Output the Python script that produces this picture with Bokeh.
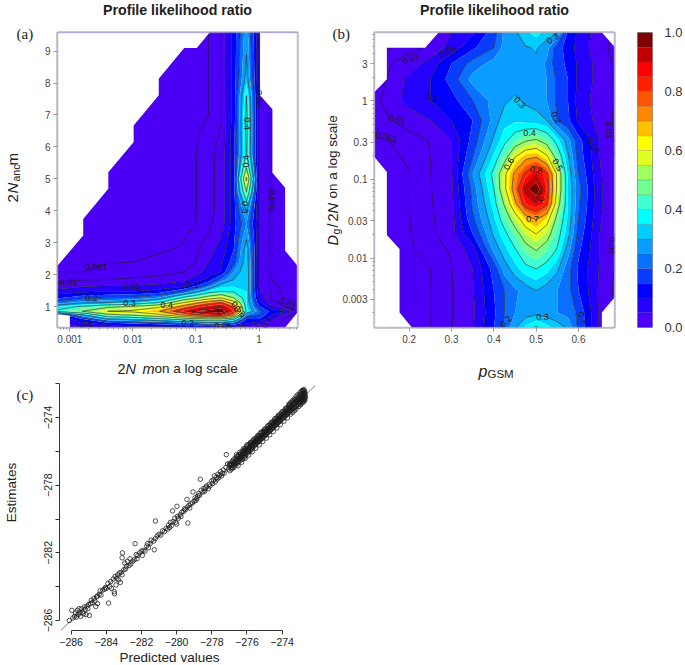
from bokeh.plotting import figure
from bokeh.layouts import column, row
from bokeh.models import FixedTicker, Label, BoxAnnotation
from bokeh.core.properties import value
from bokeh.embed import file_html
from bokeh.resources import INLINE
import numpy as np

FONT = "Liberation Sans"
SERIF = "Liberation Serif"

# ---------- shared colour key ----------
levels = [0, .05, .1, .15, .2, .25, .3, .35, .4, .45, .5, .55, .6, .65, .7, .75, .8, .85, .9, .95, 1.0]
band_colors = ["#4b00f5", "#2400ff", "#0000ff", "#083cff", "#0a70ff", "#0a9cff", "#00ccff", "#00ffff",
               "#40ffd0", "#70ff90", "#a0ff60", "#e0ff20", "#ffff00", "#ffc000", "#ff8800", "#ff5500",
               "#ff2000", "#ff0000", "#c00000", "#800000"]
line_levels = [.001, .01, .05, .1, .2, .3, .4, .5, .6, .7, .8, .9]

# ---------- panel (a) ----------
a_log2Nm = [-3.2, -2.8, -2.4, -2.0, -1.6, -1.2, -1.0, -0.8, -0.6, -0.4, -0.2, 0.0, 0.2, 0.4, 0.6]
a_Nanc = [.35, .48, .62, .75, .86, 1.0, 1.13, 1.28, 1.48, 1.66, 1.85, 2.1, 2.4, 2.8, 3.2, 3.6,
          4.0, 4.6, 5.0, 5.4, 5.8, 6.4, 7.0, 7.6, 8.2, 9.6]
a_z = [
 [.02, .05, .07, .08, .08, .09, .09, .09, .05, .03, .03, .02, .015, .001, .0005],
 [.03, .08, .12, .15, .17, .2, .22, .25, .25, .2, .1, .06, .03, .002, .001],
 [.05, .15, .3, .33, .38, .45, .48, .5, .5, .42, .15, .15, .06, .005, .001],
 [.1, .3, .48, .52, .58, .72, .8, .85, .87, .72, .25, .2, .1, .03, .002],
 [.42, .5, .6, .62, .69, .87, .95, .98, .995, .85, .38, .22, .13, .11, .012],
 [.35, .42, .48, .52, .58, .74, .82, .88, .93, .78, .36, .16, .06, .008, .001],
 [.22, .28, .3, .33, .4, .6, .68, .75, .8, .64, .35, .12, .02, .003, .0008],
 [.14, .18, .2, .21, .25, .42, .48, .55, .6, .5, .35, .08, .006, .0008, .0005],
 [.07, .09, .1, .1, .12, .2, .28, .36, .4, .39, .35, .06, .002, .0006, .0004],
 [.015, .04, .05, .05, .06, .08, .14, .22, .33, .34, .35, .05, .0015, .0005, .0003],
 [.005, .008, .01, .012, .015, .04, .07, .12, .22, .3, .35, .05, .001, .0005, .0003],
 [.001, .001, .002, .003, .004, .008, .03, .07, .1, .25, .35, .05, .0008, .0005, .0003],
 [.0004, .0006, .0008, .001, .0015, .003, .01, .05, .09, .18, .34, .05, .0008, .0005, .0003],
 [.0002, .0003, .0004, .0005, .0007, .0012, .004, .03, .07, .15, .33, .05, .0008, .0005, .0003],
 [.0002, .0002, .0003, .0003, .0005, .0008, .002, .012, .05, .14, .29, .05, .0008, .0005, .0003],
 [.0002, .0002, .0003, .0003, .0004, .0008, .001, .005, .025, .13, .25, .05, .0008, .0005, .0003],
 [.0002, .0002, .0003, .0003, .0004, .0006, .0009, .003, .018, .13, .3, .05, .0008, .0005, .0003],
 [.0002, .0002, .0003, .0003, .0004, .0006, .0009, .003, .018, .13, .5, .05, .0008, .0005, .0003],
 [.0002, .0002, .0003, .0003, .0004, .0006, .0009, .003, .018, .13, .62, .05, .0008, .0005, .0003],
 [.0002, .0002, .0003, .0003, .0004, .0006, .0009, .003, .018, .13, .48, .05, .0008, .0005, .0003],
 [.0002, .0002, .0003, .0003, .0004, .0006, .0009, .003, .018, .13, .41, .05, .0008, .0005, .0003],
 [.0002, .0002, .0003, .0003, .0004, .0006, .0008, .002, .012, .13, .42, .05, .0008, .0005, .0003],
 [.0002, .0002, .0003, .0003, .0004, .0005, .0006, .001, .008, .12, .42, .05, .0008, .0005, .0003],
 [.0002, .0002, .0003, .0003, .0004, .0005, .0006, .001, .008, .12, .40, .05, .0008, .0005, .0003],
 [.0002, .0002, .0003, .0003, .0004, .0005, .0006, .001, .008, .12, .32, .05, .0008, .0005, .0003],
 [.0002, .0002, .0003, .0003, .0004, .0005, .0006, .001, .008, .12, .28, .05, .0008, .0005, .0003],
]
# edge of the region that was evaluated
a_edge_x = [-3.196, -2.788, -2.788, -2.390, -2.390, -1.988, -1.988, -1.590, -1.590, -1.187, -0.986, -0.784,
            0.016, 0.016, 0.212, 0.212, 0.413, 0.413, 0.61, 0.61, 0.413, -3.0, -3.0, -3.196]
a_edge_y = [2.285, 3.226, 3.748, 4.689, 5.211, 6.152, 6.674, 7.615, 8.137, 9.098, 9.098, 9.579,
            9.579, 7.615, 7.176, 5.19, 4.72, 2.755, 2.285, 0.822, 0.352, 0.352, 0.718, 0.77]
a_lab_text = ["0.001", "0.01", "0.05", "0.1", "0.2", "0.3", "0.4", "0.5", "0.6", "0.1", "0.2", "0.05",
              "0.01", "0.1", "0.001", "0.05", "0.4", "0.4", "0.3"]
a_lab_x = [-2.586, -3.02, -2.02, -1.06, -2.655, -2.056, -1.463, -0.345, -0.307, -2.73, -1.13, -0.572,
           .45, .117, .212, 0, -0.19, -0.2, -0.228]
a_lab_y = [2.254, 1.763, 1.658, 1.69, 1.26, 1.115, 1.063, 1.0, .854, .457, .478, .394,
           1.08, .51, 4.30, 7.51, 6.73, 5.55, 4.11]
a_lab_rot = [0, 0, 0, 0, 0, 0, 0, -45, -45, 0, 0, 0, -25, 60, -90, -90, -90, 90, -90]

# ---------- panel (b) ----------
b_p = [.118, .147, .2, .25, .3, .35, .4, .425, .45, .475, .5, .525, .55, .575, .6, .65, .685]
b_logD = [-2.885, -2.694, -2.417, -2.14, -1.906, -1.694, -1.502, -1.311, -1.119, -.928, -.715, -.502,
          -.247, .0085, .277, .477, .677, .872]
b_z = [
 [0, 0, .0003, .0009, .009, .045, .15, .21, .29, .36, .41, .37, .33, .29, .19, .045, .005],
 [0, 0, .0003, .0007, .008, .04, .14, .2, .25, .27, .28, .27, .25, .23, .19, .04, .004],
 [0, 0, .0004, .0007, .008, .045, .15, .2, .24, .27, .30, .27, .25, .22, .15, .04, .005],
 [0, .0001, .0005, .0009, .009, .05, .17, .27, .33, .38, .40, .37, .31, .22, .14, .045, .009],
 [0, .0001, .0007, .002, .012, .07, .26, .33, .39, .46, .5, .45, .39, .27, .16, .05, .01],
 [0, .0001, .0008, .003, .03, .15, .31, .38, .46, .55, .6, .54, .43, .32, .18, .05, .01],
 [0, .0001, .0009, .005, .03, .19, .34, .44, .55, .66, .71, .64, .47, .34, .2, .055, .012],
 [0, .0001, .0009, .007, .035, .21, .37, .51, .68, .85, .9, .82, .54, .35, .21, .06, .012],
 [.0001, .0002, .0009, .008, .04, .22, .4, .58, .75, .93, .995, .85, .58, .35, .22, .06, .012],
 [.0001, .0002, .0009, .009, .045, .25, .42, .58, .72, .82, .9, .82, .58, .34, .2, .055, .012],
 [.0001, .0003, .0014, .01, .05, .2, .36, .46, .6, .68, .7, .62, .46, .31, .18, .05, .01],
 [.0005, .0009, .002, .011, .05, .17, .31, .38, .44, .49, .51, .46, .37, .27, .17, .048, .009],
 [.004, .007, .02, .05, .1, .15, .27, .33, .34, .33, .32, .3, .2, .16, .09, .03, .007],
 [.006, .015, .07, .1, .13, .2, .27, .29, .31, .29, .28, .25, .19, .15, .08, .025, .006],
 [.001, .01, .06, .1, .17, .27, .28, .27, .27, .27, .27, .25, .19, .15, .09, .03, .006],
 [0, .006, .025, .07, .15, .22, .27, .28, .28, .29, .29, .24, .17, .14, .09, .03, .005],
 [0, .0005, .003, .014, .07, .14, .2, .27, .27, .295, .305, .27, .17, .13, .08, .02, .003],
 [0, .0003, .001, .008, .05, .09, .18, .26, .29, .34, .37, .33, .3, .14, .09, .02, .002],
]
b_edge_x = [.1181, .1472, .1472, .2378, .2693, .6551, .685, .685, .6551, .6551, .2063, .1772, .1772, .1472, .1472, .1181]
b_edge_y = [.115, .277, .677, .677, .872, .872, .689, -2.502, -2.694, -2.885, -2.885, -2.694, -1.885, -1.706, -.906, -.715]
b_lab_text = ["0.01", "0.05", "0.3", "0.1", "0.3", "0.2", "0.01", "0.001", "0.4", "0.01", "0.05", "0.6", "0.5",
              "0.8", "0.9", "0.7", "0.01", "0.1", "0.2", "0.3"]
b_lab_x = [.2047, .2906, .539, .256, .461, .547, .171, .147, .484, .673, .635, .436, .55, .5, .509, .491, .679, .612, .428, .515]
b_lab_y = [.540, .626, .796, .051, -.021, -.213, -.234, -.46, -.404, -.366, -.574, -.8, -.813, -.877, -1.204, -1.502,
           -1.843, -2.757, -2.809, -2.749]
b_lab_rot = [25, 30, 35, -20, -45, -60, -15, -15, 0, -90, -60, 60, -60, -10, -75, 0, -90, -50, 45, 0]

# ---------- panel (c) ----------
c_sparse = [(-286.1,-286.0),(-285.96,-285.4),(-285.9,-285.85),(-285.8,-285.75),(-285.75,-285.55),(-285.7,-285.8),(-285.65,-285.4),
 (-285.6,-285.65),(-285.55,-285.3),(-285.5,-285.55),(-285.45,-285.75),(-285.4,-285.3),(-285.35,-285.5),(-285.3,-285.6),(-285.25,-285.2),
 (-285.2,-285.35),(-285.15,-285.65),(-285.1,-285.15),(-285.05,-285.3),(-284.96,-285.7),(-285.0,-285.05),(-284.9,-285.0),(-284.85,-284.8),
 (-284.8,-284.95),(-284.7,-284.7),(-284.65,-284.85),(-284.6,-285.17),(-284.55,-284.6),(-284.5,-284.55),(-284.5,-285.0),(-284.4,-284.45),
 (-284.35,-284.25),(-284.3,-284.5),(-284.2,-284.2),(-284.1,-284.15),(-284.05,-284.05),(-284.0,-284.1),(-283.9,-283.8),(-283.87,-284.97),
 (-283.8,-284.0),(-283.75,-283.7),(-283.7,-284.1),(-283.6,-283.55),(-283.55,-284.3),(-283.53,-284.42),(-283.5,-283.4),(-283.45,-283.9),
 (-283.4,-283.5),(-283.35,-283.3),(-283.3,-283.6),(-283.25,-283.2),(-283.2,-283.75),(-283.15,-283.15),(-283.1,-283.3),(-283.1,-282.29),
 (-283.08,-282.0),(-283.0,-283.0),(-282.95,-282.6),(-282.9,-282.95),(-282.85,-282.8),(-282.8,-282.5),(-282.7,-282.75),(-282.65,-282.35),
 (-282.6,-282.65),(-282.5,-282.5),(-282.4,-282.4),(-282.36,-281.46),(-282.3,-282.1),(-282.25,-282.35),(-282.2,-282.15),(-282.1,-282.0),
 (-282.0,-281.9),(-281.95,-282.15),(-281.9,-281.85),(-281.8,-281.9),(-281.7,-281.6),(-281.65,-281.45),(-281.6,-281.7),(-281.5,-281.45),
 (-281.45,-281.25),(-281.3,-281.3),(-281.27,-281.82),(-281.2,-281.15),(-281.2,-280.12),(-281.1,-281.0),(-281.0,-280.9),(-280.9,-280.95),
 (-280.8,-280.7),(-280.7,-280.75),(-280.6,-280.55),(-280.5,-280.6),(-280.45,-280.35),(-280.4,-280.5),(-280.35,-280.2),(-280.3,-280.4),
 (-280.23,-279.52),(-280.2,-280.15),(-280.1,-279.95),(-280.05,-280.2),(-280.0,-280.3),(-279.98,-279.25),(-279.95,-279.85),(-279.9,-279.95),
 (-279.8,-279.75),(-279.75,-279.85),(-279.7,-279.6),(-279.6,-279.55),(-279.55,-279.4),(-279.5,-279.45),(-279.41,-278.84),(-279.4,-279.3),
 (-279.36,-280.24),(-279.3,-279.2),(-279.25,-279.35),(-279.2,-279.1),(-279.1,-279.05),(-279.07,-278.4),(-279.0,-278.95),(-278.95,-278.75),
 (-278.9,-278.9),(-278.85,-278.8),(-278.8,-278.65),(-278.75,-278.5),(-278.7,-278.6),(-278.65,-277.65),(-278.6,-278.3),(-278.5,-278.4),
 (-278.45,-278.2),(-278.4,-278.35),(-278.35,-278.15),(-278.3,-278.05),(-278.2,-278.2),(-278.15,-277.95),(-278.1,-278.05),(-278.0,-277.75),
 (-277.95,-277.9),(-277.9,-277.7),(-277.85,-277.45),(-277.8,-277.8),(-277.75,-277.55),(-277.7,-277.65),(-277.65,-277.35),(-277.6,-277.55),
 (-277.55,-277.4),(-277.5,-277.2),(-277.45,-277.45),(-277.4,-277.3),(-277.35,-277.1),(-277.3,-277.3),(-277.2,-276.95),(-277.17,-276.19),(-277.1,-276.75)]
c_dense = [(-277.05,-277.05),(-277.0,-276.75),(-276.97,-277.15),(-276.93,-276.7),(-276.9,-276.95),(-276.87,-277.05),(-276.84,-276.6),
 (-276.8,-276.85),(-276.77,-276.5),(-276.74,-276.95),(-276.7,-276.7),(-276.67,-276.4),(-276.64,-276.8),(-276.6,-276.55),(-276.57,-276.3),
 (-276.54,-276.7),(-276.5,-276.45),(-276.47,-276.2),(-276.44,-276.6),(-276.4,-276.35),(-276.37,-276.15),(-276.34,-276.5),(-276.3,-276.25),
 (-276.27,-276.0),(-276.24,-276.45),(-276.2,-276.15),(-276.18,-275.95),(-276.15,-276.35),(-276.12,-276.05),(-276.1,-275.8),(-276.07,-276.25),
 (-276.04,-275.95),(-276.0,-275.7),(-275.97,-276.1),(-275.94,-275.85),(-275.9,-275.6),(-275.87,-276.0),(-275.85,-275.75),(-275.82,-275.55),
 (-275.8,-275.95),(-275.77,-275.65),(-275.74,-275.45),(-275.7,-275.85),(-275.67,-275.55),(-275.64,-275.35),(-275.6,-275.7),(-275.57,-275.45),
 (-275.54,-275.25),(-275.5,-275.6),(-275.47,-275.35),(-275.44,-275.2),(-275.4,-275.5),(-275.37,-275.25),(-275.34,-275.05),(-275.3,-275.4),
 (-275.27,-275.15),(-275.24,-274.95),(-275.2,-275.3),(-275.17,-275.05),(-275.14,-274.85),(-275.1,-275.2),(-275.07,-274.95),(-275.04,-274.8),
 (-275.0,-275.1),(-274.97,-274.85),(-274.94,-274.7),(-274.9,-275.0),(-274.87,-274.75),(-274.84,-274.55),(-274.8,-274.9),(-274.77,-274.65),
 (-274.74,-274.45),(-274.7,-274.8),(-274.67,-274.55),(-274.64,-274.35),(-274.6,-274.7),(-274.57,-274.45),(-274.54,-274.25),(-274.5,-274.6),
 (-274.47,-274.35),(-274.44,-274.15),(-274.4,-274.5),(-274.37,-274.25),(-274.34,-274.05),(-274.3,-274.4),(-274.27,-274.15),(-274.24,-273.95),
 (-274.2,-274.3),(-274.17,-274.05),(-274.14,-273.85),(-274.1,-274.2),(-274.07,-273.95),(-274.04,-273.75),(-274.0,-274.1),(-273.97,-273.85),
 (-273.94,-273.65),(-273.9,-274.0),(-273.87,-273.75),(-273.84,-273.55),(-273.8,-273.9),(-273.77,-273.65),(-273.74,-273.45),(-273.7,-273.8),
 (-273.67,-273.55),(-273.64,-273.35),(-273.6,-273.7),(-273.57,-273.45),(-273.54,-273.25),(-273.5,-273.6),(-273.47,-273.35),(-273.44,-273.15),
 (-273.4,-273.5),(-273.37,-273.25),(-273.34,-273.05),(-273.3,-273.45),(-273.27,-273.15),(-273.24,-272.95),(-273.2,-273.35),(-273.17,-273.05),
 (-273.14,-272.85),(-273.1,-273.25),(-273.07,-272.95),(-273.04,-272.75),(-273.0,-273.2),(-272.98,-272.9),(-272.96,-272.65),(-272.93,-273.1),
 (-272.9,-272.85),(-272.88,-272.6),(-272.85,-273.05),(-272.83,-272.8),(-272.81,-272.5),(-272.78,-273.0),(-272.76,-272.75),(-272.74,-272.45),
 (-272.72,-272.9),(-272.7,-272.65),(-272.75,-272.35),(-272.68,-272.8),(-272.7,-272.5),(-272.8,-272.4),(-272.85,-272.4)]
c_dense_inner = [(-276.98,-276.8),(-276.92,-276.82),(-276.86,-276.78),(-276.82,-276.98),(-276.76,-276.7),(-276.72,-276.6),(-276.66,-276.72),
 (-276.62,-276.48),(-276.58,-276.66),(-276.52,-276.32),(-276.48,-276.58),(-276.42,-276.4),(-276.38,-276.28),(-276.32,-276.36),(-276.28,-276.12),
 (-276.22,-276.3),(-276.16,-276.1),(-276.14,-275.92),(-276.08,-276.14),(-276.02,-275.86),(-275.98,-275.98),(-275.92,-276.02),(-275.88,-275.78),
 (-275.84,-275.88),(-275.78,-275.72),(-275.72,-275.58),(-275.68,-275.74),(-275.62,-275.52),(-275.58,-275.62),(-275.52,-275.38),(-275.46,-275.5),
 (-275.42,-275.32),(-275.36,-275.42),(-275.32,-275.12),(-275.26,-275.28),(-275.22,-275.1),(-275.16,-275.24),(-275.12,-275.0),(-275.06,-275.12),
 (-275.02,-274.86),(-274.96,-275.02),(-274.92,-274.8),(-274.86,-274.9),(-274.82,-274.68),(-274.76,-274.82),(-274.72,-274.58),(-274.66,-274.72),
 (-274.62,-274.48),(-274.56,-274.6),(-274.52,-274.36),(-274.46,-274.5),(-274.42,-274.28),(-274.36,-274.42),(-274.32,-274.16),(-274.26,-274.3),
 (-274.22,-274.08),(-274.16,-274.22),(-274.12,-273.96),(-274.06,-274.1),(-274.02,-273.88),(-273.96,-274.02),(-273.92,-273.76),(-273.86,-273.92),
 (-273.82,-273.68),(-273.76,-273.82),(-273.72,-273.56),(-273.66,-273.72),(-273.62,-273.46),(-273.56,-273.62),(-273.52,-273.36),(-273.46,-273.52),
 (-273.42,-273.26),(-273.36,-273.42),(-273.32,-273.16),(-273.26,-273.36),(-273.22,-273.06),(-273.16,-273.26),(-273.12,-272.96),(-273.06,-273.14),
 (-273.02,-272.86),(-272.97,-273.05),(-272.94,-272.78),(-272.89,-272.98),(-272.86,-272.7),(-272.82,-272.9),(-272.79,-272.62),(-272.75,-272.85),
 (-272.72,-272.58),(-272.7,-272.75),(-273.2,-272.75),(-273.1,-272.65),(-273.0,-272.55),(-272.9,-272.45),(-272.95,-273.25),(-272.85,-273.15),
 (-272.75,-273.05),(-273.05,-273.35),(-272.7,-272.95),(-273.3,-272.9),(-273.4,-273.0),(-273.5,-273.1),(-273.6,-273.2),(-273.5,-273.8),
 (-273.4,-273.7),(-273.3,-273.6),(-273.2,-273.5)]
c_dense_outer = [(-276.6,-276.2),(-276.5,-276.85),(-276.4,-276.05),(-276.3,-276.65),(-276.2,-275.85),(-276.1,-276.42),(-276.0,-275.62),
 (-275.9,-276.22),(-275.8,-275.48),(-275.7,-276.02),(-275.6,-275.28),(-275.5,-275.82),(-275.4,-275.08),(-275.3,-275.62),(-275.2,-274.88),
 (-275.1,-275.42),(-275.0,-274.68),(-274.9,-275.22),(-274.8,-274.48),(-274.7,-275.02),(-274.6,-274.28),(-274.5,-274.82),(-274.4,-274.06),
 (-274.3,-274.62),(-274.2,-273.86),(-274.1,-274.42),(-274.0,-273.66),(-273.9,-274.22),(-273.8,-273.46),(-273.7,-274.02),(-273.6,-273.26)]
c_identity = [-286.6, -272.1]
c_ticks = [-286, -284, -282, -280, -278, -276, -274]
c_y_ticks = [-286, -284, -282, -280, -278, -276, -274, -272]
c_y_labels = {-286: "\u2212286", -284: "", -282: "\u2212282", -280: "", -278: "\u2212278", -276: "", -274: "\u2212274", -272: ""}
c_x_labels = {-286: "\u2212286", -284: "\u2212284", -282: "\u2212282", -280: "\u2212280", -278: "\u2212278", -276: "\u2212276", -274: "\u2212274"}

# ---------- layout, page pixels ----------
AX_GRAY = "#9a9a9a"
TICK_TXT = "#444444"

# A transparent sheet over the whole page carries every text that mixes styles or sits outside a frame.
sheet = figure(width=685, height=665, x_range=(0, 685), y_range=(665, 0), x_axis_location=None, y_axis_location=None,
               output_backend="svg", toolbar_location=None, min_border=0, background_fill_color=None,
               border_fill_color=None, outline_line_color=None)
sheet.grid.visible = False


def page_label(text, px, py, size, style="normal", angle=0, font=FONT, color="#222222", align="left"):
    sheet.add_layout(Label(x=px, y=py, text=text, text_font=font, text_font_size=f"{size}px", text_font_style=style,
                           text_color=color, angle=angle, angle_units="deg", text_baseline="middle", text_align=align))


def contour_panel(xr, yr, fw, fh, left, right, top, bottom, xs, ys, z, ex, ey, lt, lx, ly, lr, plus):
    p = figure(width=left + fw + right, height=top + fh + bottom, x_range=xr, y_range=yr,
               output_backend="svg", toolbar_location=None, min_border_left=left, min_border_right=right,
               min_border_top=top, min_border_bottom=bottom)
    p.grid.visible = False
    p.outline_line_color = AX_GRAY
    p.outline_line_width = 2
    p.contour(xs, ys, np.array(z), levels=levels, fill_color=band_colors)
    p.contour(xs, ys, np.array(z), levels=line_levels, line_color="#1c1c1c", line_width=0.6)
    o = [xr[0] - 1, xr[1] + 1, xr[1] + 1, xr[0] - 1]
    q = [yr[0] - 1, yr[0] - 1, yr[1] + 1, yr[1] + 1]
    p.multi_polygons(xs=[[[o, ex]]], ys=[[[q, ey]]], fill_color="white", line_color=None)
    p.text(x=lx, y=ly, text=lt, angle=lr, angle_units="deg", text_font=value(FONT), text_font_size="9px",
           text_color="#1c1c1c", text_align="center", text_baseline="middle")
    p.scatter(x=[plus[0]], y=[plus[1]], marker="cross", size=7, line_color="#1c1c1c", line_width=0.7)
    p.add_layout(BoxAnnotation(left=xr[0], right=xr[1], bottom=yr[0], top=yr[1], fill_color=None,
                               line_color=AX_GRAY, line_width=2, level="overlay"))
    for ax in (p.xaxis[0], p.yaxis[0]):
        ax.axis_line_color = None
        ax.major_tick_line_color = AX_GRAY
        ax.minor_tick_line_color = AX_GRAY
        ax.major_tick_in = 0
        ax.major_tick_out = 4
        ax.minor_tick_in = 0
        ax.minor_tick_out = 2
        ax.major_label_text_font = FONT
        ax.major_label_text_font_size = "10px"
        ax.major_label_text_color = TICK_TXT
        ax.major_label_standoff = 3
    return p


# (a)
pa = contour_panel((-3.196, 0.61), (.352, 9.58), 240, 295, 57, 23, 32, 53, a_log2Nm, a_Nanc, a_z,
                   a_edge_x, a_edge_y, a_lab_text, a_lab_x, a_lab_y, a_lab_rot, (-0.65, 0.87))
pa.xaxis[0].ticker = FixedTicker(ticks=[-3, -2, -1, 0],
                                 minor_ticks=[float(d + np.log10(m)) for d in (-4, -3, -2, -1, 0) for m in range(2, 10)])
pa.xaxis[0].major_label_overrides = {-3: "0.001", -2: "0.01", -1: "0.1", 0: "1"}
pa.yaxis[0].ticker = FixedTicker(ticks=list(range(1, 10)))
page_label("Profile likelihood ratio", 177, 9, 14.2, "bold", align="center")
page_label("(a)", 16, 33, 15, font=SERIF)
page_label("2", 117, 368, 14.5)
page_label("N", 125, 368, 14.5, "italic")
page_label("m", 142, 368, 14.5, "italic")
page_label("on a log scale", 154, 368, 13.5)
page_label("2", 12, 202, 15, angle=90)
page_label("N", 12, 193, 15, "italic", angle=90)
page_label("anc", 15, 181, 10.5, angle=90)
page_label("m", 12, 165, 15, angle=90)

# (b)
pb = contour_panel((.118, .685), (-2.885, .872), 240, 295, 54, 6, 32, 53, b_p, b_logD, b_z,
                   b_edge_x, b_edge_y, b_lab_text, b_lab_x, b_lab_y, b_lab_rot, (.4929, -1.106))
pb.xaxis[0].ticker = FixedTicker(ticks=[.2, .3, .4, .5, .6])
pb.yaxis[0].ticker = FixedTicker(ticks=[float(np.log10(v)) for v in (.003, .01, .03, .1, .3, 1, 3)],
                                 minor_ticks=[float(d + np.log10(m)) for d in (-3, -2, -1, 0) for m in range(2, 10)])
pb.yaxis[0].major_label_overrides = {float(np.log10(v)): s for v, s in
                                     ((.003, "0.003"), (.01, "0.01"), (.03, "0.03"), (.1, "0.1"), (.3, "0.3"), (1, "1"), (3, "3"))}
page_label("Profile likelihood ratio", 494, 9, 14.2, "bold", align="center")
page_label("(b)", 332, 33, 15, font=SERIF)
page_label("p", 478, 371, 16, "italic")
page_label("GSM", 487, 373, 11.5)
page_label("D", 332, 245, 14.5, "italic", angle=90)
page_label("g", 335, 234, 10.5, angle=90)
page_label("/", 332, 227, 14, angle=90)
page_label("2", 332, 221, 14.5, angle=90)
page_label("N", 332, 213, 14.5, "italic", angle=90)
page_label("on a log scale", 332, 198, 13.5, angle=90)

# colour key
pk = figure(width=17 + 23 + 25, height=32 + 295 + 53, x_range=(0, 1), y_range=(0, 1), y_axis_location="right",
            output_backend="svg", toolbar_location=None, min_border_left=17, min_border_right=25,
            min_border_top=32, min_border_bottom=53)
pk.grid.visible = False
pk.xaxis.visible = False
pk.outline_line_color = AX_GRAY
pk.quad(left=0, right=1, bottom=levels[:-1], top=levels[1:], fill_color=band_colors,
        line_color="#444444", line_alpha=0.35, line_width=0.5)
pk.yaxis[0].ticker = FixedTicker(ticks=[0, .2, .4, .6, .8, 1.0])
pk.yaxis[0].major_label_overrides = {0: "0.0", .2: "0.2", .4: "0.4", .6: "0.6", .8: "0.8", 1.0: "1.0"}
pk.yaxis[0].axis_line_color = None
pk.yaxis[0].major_tick_line_color = None
pk.yaxis[0].minor_tick_line_color = None
pk.yaxis[0].major_label_text_font = FONT
pk.yaxis[0].major_label_text_font_size = "13px"
pk.yaxis[0].major_label_text_color = "#333333"
pk.yaxis[0].major_label_standoff = 6

# (c)
c_pts = c_sparse + c_dense + c_dense_inner + c_dense_outer
c_pred = [t[0] for t in c_pts]
c_est = [t[1] for t in c_pts]
pc = figure(width=59 + 256 + 15, height=3 + 247 + 35, x_range=(-286.66, -272.1), y_range=(-286.59, -271.99),
            output_backend="svg", toolbar_location=None, min_border_left=59, min_border_right=15,
            min_border_top=3, min_border_bottom=35)
pc.grid.visible = False
pc.outline_line_color = None
pc.line(c_identity, c_identity, line_color="#555555", line_width=0.8)
pc.scatter(c_pred, c_est, marker="circle", size=4.5, fill_color=None, line_color="#1a1a1a", line_width=0.75)
pc.xaxis[0].ticker = FixedTicker(ticks=c_ticks)
pc.xaxis[0].bounds = (-286, -274)
pc.xaxis[0].major_label_overrides = c_x_labels
pc.yaxis[0].ticker = FixedTicker(ticks=c_y_ticks)
pc.yaxis[0].bounds = (-286, -272)
pc.yaxis[0].major_label_overrides = c_y_labels
pc.yaxis[0].major_label_orientation = "vertical"
for ax in (pc.xaxis[0], pc.yaxis[0]):
    ax.axis_line_color = "#333333"
    ax.major_tick_line_color = "#333333"
    ax.minor_tick_line_color = None
    ax.major_tick_in = 0
    ax.major_tick_out = 4
    ax.major_label_text_font = FONT
    ax.major_label_text_font_size = "10.5px"
    ax.major_label_text_color = "#222222"
    ax.major_label_standoff = 3
page_label("(c)", 16, 394, 15, font=SERIF)
page_label("Predicted values", 169, 657, 13.5, align="center")
page_label("Estimates", 11, 492, 13.5, angle=90, align="center")

layout = column(row(pa, pb, pk), row(pc), row(sheet, margin=(-665, 0, 0, 0)), spacing=0)
open("out.html", "w").write(file_html(layout, INLINE))
